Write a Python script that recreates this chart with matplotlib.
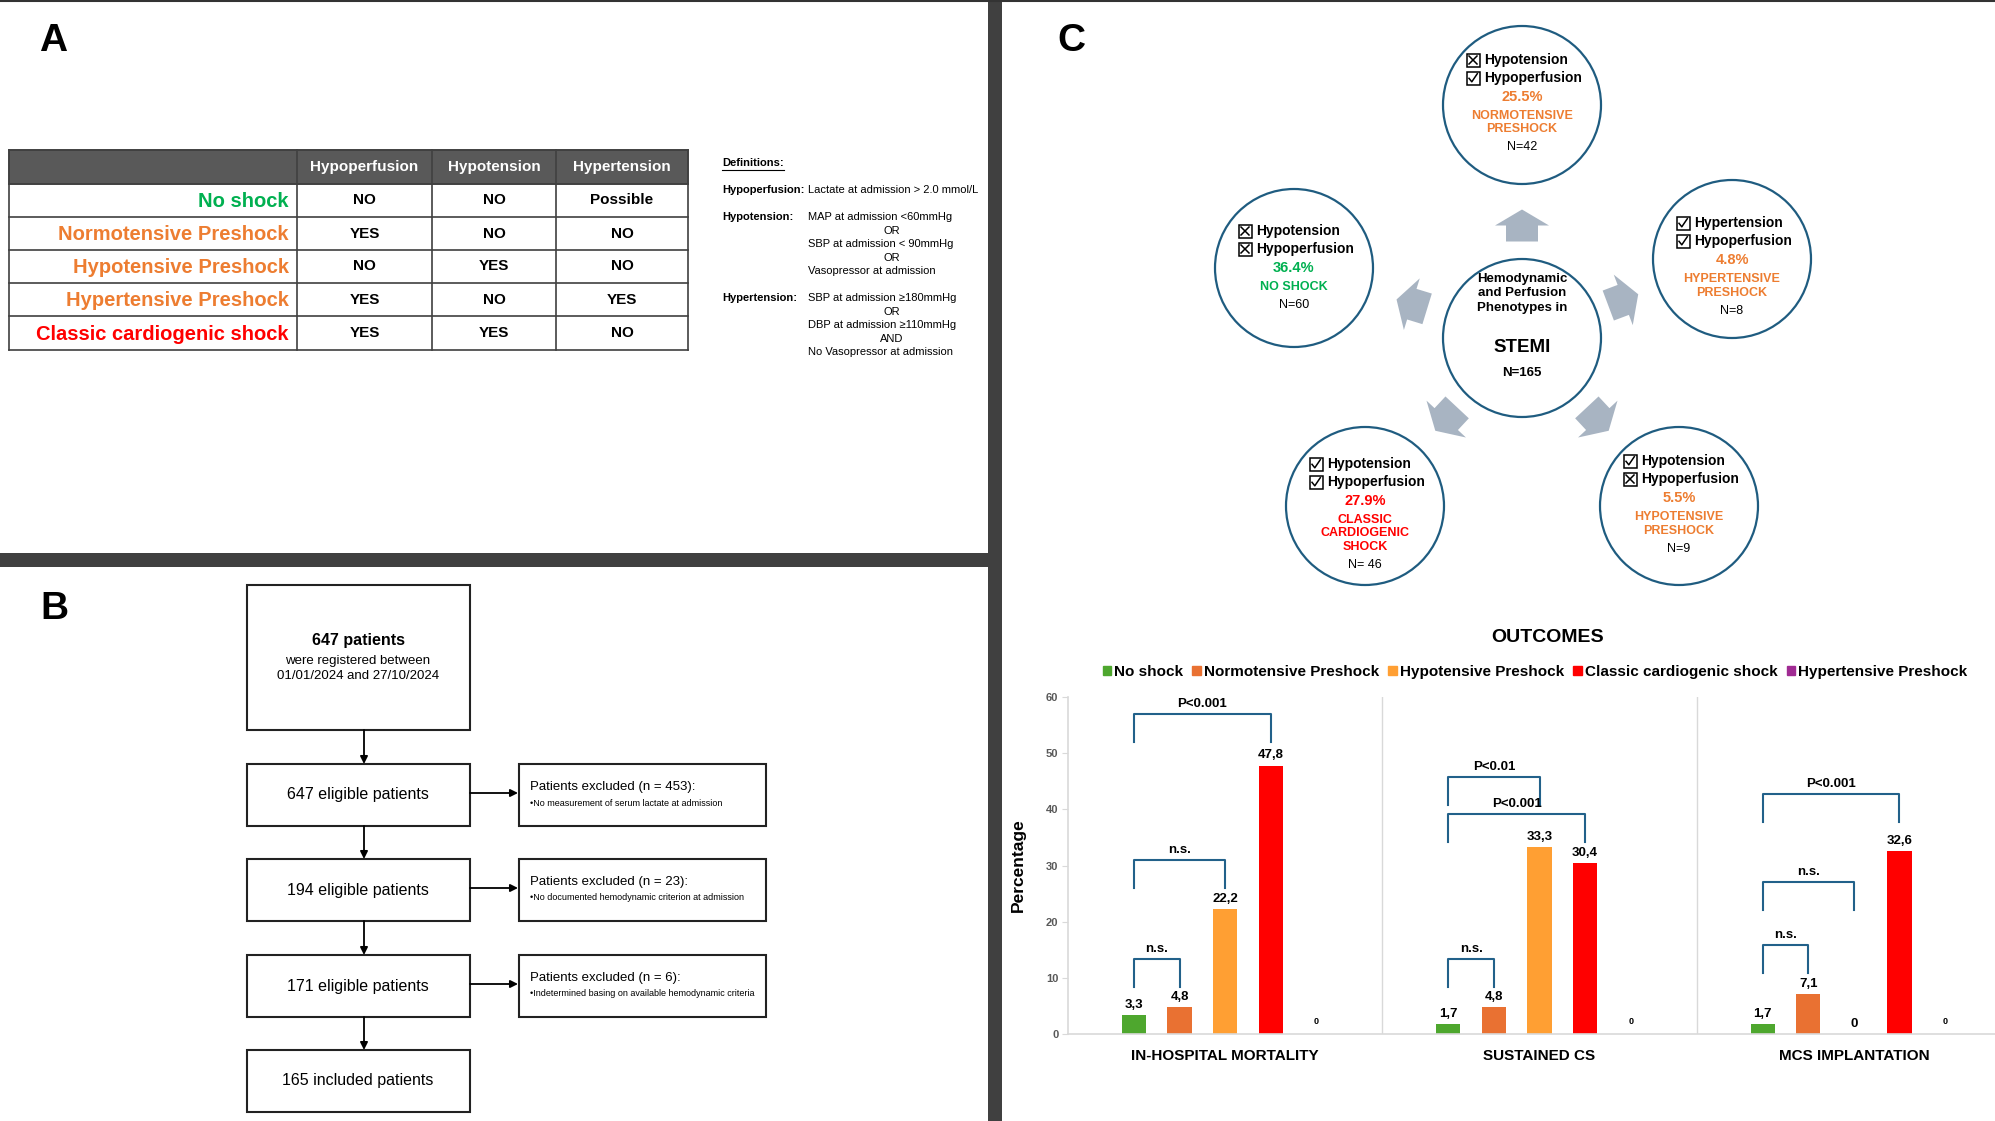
import matplotlib

matplotlib.use("Agg")

import matplotlib.pyplot as plt
import numpy as np
from matplotlib.patches import Circle, Patch, Polygon, Rectangle

plt.rcParams["font.family"] = ["Liberation Sans", "DejaVu Sans"]

GREEN_TXT = "#00B050"
ORANGE_TXT = "#ED7D31"
RED_TXT = "#FF0000"
BLUE_LINE = "#22618A"
DARK = "#404040"

# ---- panel A: phenotype table ----
table_cols = ["Hypoperfusion", "Hypotension", "Hypertension"]
table_rows = [
    "No shock",
    "Normotensive Preshock",
    "Hypotensive Preshock",
    "Hypertensive Preshock",
    "Classic cardiogenic shock",
]
table_cells = [
    ["NO", "NO", "Possible"],
    ["YES", "NO", "NO"],
    ["NO", "YES", "NO"],
    ["YES", "NO", "YES"],
    ["YES", "YES", "NO"],
]
row_colors = [GREEN_TXT, ORANGE_TXT, ORANGE_TXT, ORANGE_TXT, RED_TXT]

definitions = [
    ("Hypoperfusion:", ["Lactate at admission > 2.0 mmol/L"]),
    ("Hypotension:", ["MAP at admission <60mmHg", "OR", "SBP at admission < 90mmHg",
                      "OR", "Vasopressor at admission"]),
    ("Hypertension:", ["SBP at admission \u2265180mmHg", "OR", "DBP at admission \u2265110mmHg",
                       "AND", "No Vasopressor at admission"]),
]

# ---- panel B: flowchart ----
flow_steps = [
    "647 eligible patients",
    "194 eligible patients",
    "171 eligible patients",
    "165 included patients",
]
excluded_n = [453, 23, 6]
excluded_reason = [
    "No measurement of serum lactate at admission",
    "No documented hemodynamic criterion at admission",
    "Indetermined basing on available hemodynamic criteria",
]

# ---- panel C: phenotype circles ----
phen_names = ["NORMOTENSIVE\nPRESHOCK", "HYPERTENSIVE\nPRESHOCK", "HYPOTENSIVE\nPRESHOCK",
              "CLASSIC\nCARDIOGENIC\nSHOCK", "NO SHOCK"]
phen_pct = [25.5, 4.8, 5.5, 27.9, 36.4]
phen_n = ["N=42", "N=8", "N=9", "N= 46", "N=60"]
phen_first_check = ["Hypotension", "Hypertension", "Hypotension", "Hypotension", "Hypotension"]
phen_first_state = [False, True, True, True, False]
phen_perf_state = [True, True, False, True, False]
phen_colors = [ORANGE_TXT, ORANGE_TXT, ORANGE_TXT, RED_TXT, GREEN_TXT]

# ---- panel C: outcomes ----
outcomes = ["IN-HOSPITAL MORTALITY", "SUSTAINED CS", "MCS IMPLANTATION"]
groups = ["No shock", "Normotensive Preshock", "Hypotensive Preshock",
          "Classic cardiogenic shock", "Hypertensive Preshock"]
no_shock = [3.3, 1.7, 1.7]
normotensive = [4.8, 4.8, 7.1]
hypotensive = [22.2, 33.3, 0]
classic_cs = [47.8, 30.4, 32.6]
hypertensive = [0, 0, 0]
bar_colors = ["#4EA72E", "#E97132", "#FF9F33", "#FF0000", "#A02B93"]

# (outcome, left bar, right bar, bracket top, label)
brackets = [
    (0, 0, 3, 57.0, "P<0.001"),
    (0, 0, 2, 31.0, "n.s."),
    (0, 0, 1, 13.3, "n.s."),
    (1, 0, 2, 45.8, "P<0.01"),
    (1, 0, 3, 39.2, "P<0.001"),
    (1, 0, 1, 13.3, "n.s."),
    (2, 0, 3, 42.7, "P<0.001"),
    (2, 0, 2, 27.1, "n.s."),
    (2, 0, 1, 15.8, "n.s."),
]

W, H = 1995, 1121
fig = plt.figure(figsize=(W / 100, H / 100), dpi=100)
ax = fig.add_axes([0, 0, 1, 1])
ax.set_xlim(0, W)
ax.set_ylim(H, 0)
ax.axis("off")

# frame and separators
ax.plot([0, W], [1, 1], color="#333333", lw=1.5)
ax.add_patch(Rectangle((988, 0), 14, H, color=DARK, lw=0))
ax.add_patch(Rectangle((0, 553), 988, 14, color=DARK, lw=0))

for letter, (lx, ly) in zip("ABC", [(53, 41), (54, 609), (1071, 41)]):
    ax.text(lx, ly, letter, fontsize=28, fontweight="bold", ha="center", va="center")

# ---- table ----
col_x = [9, 297, 432, 556, 688]
row_y = [150, 184, 217, 250, 283, 316, 350]
ax.add_patch(Rectangle((col_x[0], row_y[0]), col_x[-1] - col_x[0], row_y[1] - row_y[0],
                       facecolor="#595959", edgecolor=DARK, lw=1.2))
for j, name in enumerate(table_cols):
    ax.text((col_x[j + 1] + col_x[j + 2]) / 2, (row_y[0] + row_y[1]) / 2, name,
            color="white", fontsize=11, fontweight="bold", ha="center", va="center")
for i, (label, cells, color) in enumerate(zip(table_rows, table_cells, row_colors)):
    y0, y1 = row_y[i + 1], row_y[i + 2]
    ym = (y0 + y1) / 2
    ax.text(col_x[1] - 8, ym + 1, label, color=color, fontsize=14.5, fontweight="bold",
            ha="right", va="center")
    for j, cell in enumerate(cells):
        ax.text((col_x[j + 1] + col_x[j + 2]) / 2, ym, cell, fontsize=11,
                fontweight="bold", ha="center", va="center")
for xv in col_x:
    ax.plot([xv, xv], [row_y[0], row_y[-1]], color=DARK, lw=1.2)
for yv in row_y:
    ax.plot([col_x[0], col_x[-1]], [yv, yv], color=DARK, lw=1.2)

# definitions
ax.text(722, 163, "Definitions:", fontsize=8, fontweight="bold", va="center")
ax.plot([722, 784], [170, 170], color="black", lw=0.8)
def_y = [190, 217, 298]
for (head, lines), y in zip(definitions, def_y):
    ax.text(722, y, head, fontsize=8, fontweight="bold", va="center")
    for k, line in enumerate(lines):
        if line in ("OR", "AND"):
            ax.text(892, y + 13.6 * k, line, fontsize=8, ha="center", va="center")
        else:
            ax.text(808, y + 13.6 * k, line, fontsize=8, va="center")

# ---- flowchart ----
box_kw = dict(fill=False, edgecolor="#222222", lw=1.5)
ax.add_patch(Rectangle((247, 585), 223, 145, **box_kw))
ax.text(358, 641, "647 patients", fontsize=11.5, fontweight="bold", ha="center", va="center")
ax.text(358, 661, "were registered between", fontsize=9.5, ha="center", va="center")
ax.text(358, 676, "01/01/2024 and 27/10/2024", fontsize=9.5, ha="center", va="center")

step_y = [764, 859, 955, 1050]
step_h = 62
arrow_kw = dict(arrowstyle="-|>", color="black", lw=1.3, mutation_scale=11,
                shrinkA=0, shrinkB=0)
prev_bottom = 730
for k, (label, y) in enumerate(zip(flow_steps, step_y)):
    ax.annotate("", xy=(364, y), xytext=(364, prev_bottom), arrowprops=arrow_kw)
    ax.add_patch(Rectangle((247, y), 223, step_h, **box_kw))
    ax.text(358, y + step_h / 2, label, fontsize=11.5, ha="center", va="center")
    prev_bottom = y + step_h
    if k < len(excluded_n):
        ym = y + step_h / 2 - 2
        ax.annotate("", xy=(518, ym), xytext=(470, ym), arrowprops=arrow_kw)
        ax.add_patch(Rectangle((519, y), 247, step_h, **box_kw))
        ax.text(530, y + 23, f"Patients excluded (n = {excluded_n[k]}):", fontsize=9.5,
                va="center")
        ax.text(530, y + 39, "\u2022" + excluded_reason[k], fontsize=6.5, va="center")

# ---- phenotype circles ----
circ_c = (1522, 338)
circ_r = 79
circ_pos = [(1522, 105), (1732, 259), (1679, 506), (1365, 506), (1294, 268)]
circ_start = [-45, -36, -45, -42, -37]
arrow_color = "#A8B4C2"


def checkbox(x, y, checked):
    ax.add_patch(Rectangle((x - 6.5, y - 6.5), 13, 13, fill=False, ec="black", lw=1.1))
    if checked:
        ax.plot([x - 4, x - 1.2, x + 4.3], [y + 0.3, y + 3.8, y - 4.3], color="black", lw=1.1)
    else:
        ax.plot([x - 4, x + 4], [y - 4, y + 4], color="black", lw=1.1)
        ax.plot([x - 4, x + 4], [y + 4, y - 4], color="black", lw=1.1)


ax.add_patch(Circle(circ_c, circ_r, fill=False, ec="#1F5C80", lw=1.6))
cx, cy = circ_c
for k, line in enumerate(["Hemodynamic", "and Perfusion", "Phenotypes in"]):
    ax.text(cx, cy - 59 + 14.5 * k, line, fontsize=9.5, fontweight="bold",
            ha="center", va="center")
ax.text(cx, cy + 10, "STEMI", fontsize=13.5, fontweight="bold", ha="center", va="center")
ax.text(cx, cy + 35, "N=165", fontsize=9.5, fontweight="bold", ha="center", va="center")

for k, (px, py) in enumerate(circ_pos):
    ax.add_patch(Circle((px, py), circ_r, fill=False, ec="#1F5C80", lw=1.6))
    y0 = py + circ_start[k]
    checkbox(px - 49, y0, phen_first_state[k])
    ax.text(px - 38, y0, phen_first_check[k], fontsize=10, fontweight="bold", va="center")
    checkbox(px - 49, y0 + 18, phen_perf_state[k])
    ax.text(px - 38, y0 + 18, "Hypoperfusion", fontsize=10, fontweight="bold", va="center")
    ax.text(px, y0 + 37, f"{phen_pct[k]}%", color=phen_colors[k], fontsize=10.5,
            fontweight="bold", ha="center", va="center")
    name_lines = phen_names[k].split("\n")
    for j, line in enumerate(name_lines):
        ax.text(px, y0 + 56 + 13.5 * j, line, color=phen_colors[k], fontsize=9,
                fontweight="bold", ha="center", va="center")
    ax.text(px, y0 + 56 + 13.5 * (len(name_lines) - 1) + 18, phen_n[k], fontsize=9,
            ha="center", va="center")

    # block arrow from centre towards the circle
    d = np.array([px - cx, py - cy], dtype=float)
    dist = np.hypot(*d)
    d /= dist
    n = np.array([-d[1], d[0]])
    mid = np.array(circ_c) + d * (circ_r + (dist - 2 * circ_r) / 2 - 4)
    local = [(-16, -16), (0, -16), (0, -27), (16, 0), (0, 27), (0, 16), (-16, 16)]
    pts = [mid + u * d + v * n for u, v in local]
    ax.add_patch(Polygon(pts, closed=True, color=arrow_color, lw=0))

# ---- outcomes bar chart ----
fig.text(1548 / W, 1 - 637 / H, "OUTCOMES", fontsize=14, fontweight="bold",
         ha="center", va="center")

bx = fig.add_axes([1068 / W, 1 - 1034 / H, (2011 - 1068) / W, (1034 - 697) / H])
bx.set_xlim(0, 3)
bx.set_ylim(0, 60)
series = [no_shock, normotensive, hypotensive, classic_cs, hypertensive]
xc = np.arange(len(outcomes)) + 0.5
offsets = (np.arange(len(groups)) - 2) * 0.145
for k, (name, vals, color) in enumerate(zip(groups, series, bar_colors)):
    bars = bx.bar(xc + offsets[k], vals, width=0.077, color=color, label=name)
    small = name == "Hypertensive Preshock"
    for b, v in zip(bars, vals):
        bx.annotate(f"{v:g}".replace(".", ","), (b.get_x() + b.get_width() / 2, v),
                    xytext=(0, 6 if small else 3), textcoords="offset points",
                    ha="center", va="bottom", fontsize=6.5 if small else 9.5,
                    fontweight="bold")

for cat, i, j, top, label in brackets:
    xl = xc[cat] + offsets[i]
    xr = xc[cat] + offsets[j]
    bx.plot([xl, xl, xr, xr], [top - 5, top, top, top - 5], color=BLUE_LINE, lw=1.5)
    bx.text((xl + xr) / 2, top + 0.7, label, fontsize=9.5, fontweight="bold",
            ha="center", va="bottom")

for sep in [1, 2]:
    bx.axvline(sep, color="#D9D9D9", lw=1)
for side in ["top", "right"]:
    bx.spines[side].set_visible(False)
for side in ["left", "bottom"]:
    bx.spines[side].set_color("#D9D9D9")
    bx.spines[side].set_linewidth(1.2)
bx.set_yticks(np.arange(0, 61, 10))
bx.tick_params(axis="y", length=4, color="#D9D9D9", labelcolor="#595959", labelsize=8, pad=3)
for lab in bx.get_yticklabels():
    lab.set_fontweight("bold")
bx.set_xticks(xc)
bx.set_xticklabels(outcomes, fontsize=11, fontweight="bold")
bx.tick_params(axis="x", length=0, pad=11)
bx.set_ylabel("Percentage", fontsize=12.5, fontweight="bold")
bx.yaxis.set_label_coords(-0.045, 0.5)
bx.patch.set_alpha(0)

handles = [Patch(color=c) for c in bar_colors]
fig.legend(handles, groups, loc="center", bbox_to_anchor=(1535 / W, 1 - 672 / H),
           ncol=5, frameon=False, prop={"weight": "bold", "size": 11},
           handlelength=0.55, handleheight=0.55, handletextpad=0.2, columnspacing=0.6)

fig.savefig("out.png", dpi=100)
